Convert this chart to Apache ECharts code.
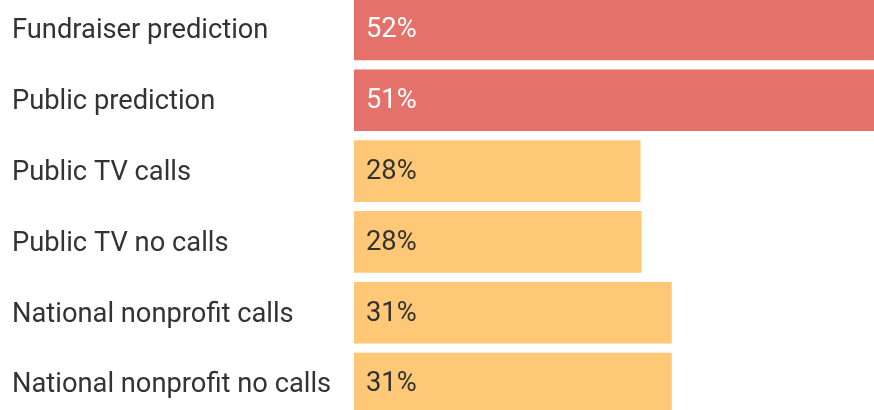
<!DOCTYPE html>
<html>
<head>
<meta charset="utf-8">
<script src="https://cdn.jsdelivr.net/npm/echarts@6/dist/echarts.min.js"></script>
<style>
html,body{margin:0;padding:0;background:#fff;overflow:hidden;width:874px;height:410px;}
#chart{position:absolute;left:0;top:-6px;width:968px;height:425px;}
</style>
</head>
<body>
<div id="chart"></div>
<script>
const categories = ['Fundraiser prediction','Public prediction','Public TV calls','Public TV no calls','National nonprofit calls','National nonprofit no calls'];
const values = [52, 51, 28, 28.1, 31.05, 31.05];
const groups = ['prediction','prediction','actual','actual','actual','actual'];

const groupColor = {prediction:'#e5716b', actual:'#fec877'};
const labelColor = {prediction:'#ffffff', actual:'#333333'};

const chart = echarts.init(document.getElementById('chart'), null, {renderer:'canvas'});
chart.setOption({
  animation:false,
  grid:{left:354, right:0, top:0, bottom:0},
  xAxis:{type:'value', min:0, max:60, show:false},
  yAxis:{
    type:'category', data:categories, inverse:true,
    axisLine:{show:false}, axisTick:{show:false},
    axisLabel:{
      align:'left', margin:342,
      formatter:v=>'{t|'+v+'}',
      rich:{t:{fontFamily:'Roboto', fontSize:27.3, color:'#333333', padding:[4,0,0,0]}}
    }
  },
  series:[{
    type:'bar',
    barCategoryGap:'13%',
    data: values.map((v,i)=>({
      value:v,
      itemStyle:{color:groupColor[groups[i]]},
      label:{color:labelColor[groups[i]]}
    })),
    label:{
      show:true, position:'insideLeft', distance:12,
      fontFamily:'Roboto', fontSize:27.3, offset:[0,1],
      formatter:p=>Math.round(p.value)+'%'
    }
  }]
});
</script>
</body>
</html>
